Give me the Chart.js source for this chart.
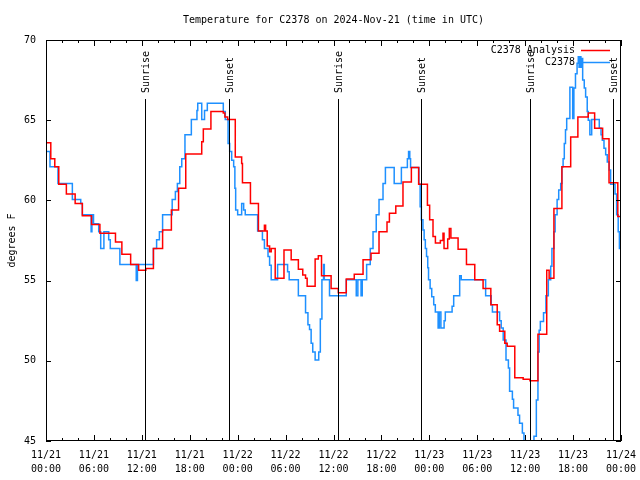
<!DOCTYPE html>
<html><head><meta charset="utf-8">
<script src="https://cdn.jsdelivr.net/npm/chart.js@4.4.1/dist/chart.umd.min.js"></script>
<style>html,body{margin:0;padding:0;background:#fff}</style>
</head><body>
<canvas id="c" width="640" height="480"></canvas>
<script>
const titleText = 'Temperature for C2378 on 2024-Nov-21 (time in UTC)';
const yAxisLabel = 'degrees F';
const tickDates = ['11/21','11/21','11/21','11/21','11/22','11/22','11/22','11/22','11/23','11/23','11/23','11/23','11/24'];
const tickTimes = ['00:00','06:00','12:00','18:00','00:00','06:00','12:00','18:00','00:00','06:00','12:00','18:00','00:00'];
const seriesNames = ['C2378 Analysis', 'C2378'];
const seriesColors = ['#ff0000', '#1e90ff'];

// hours since 11/21 00:00 UTC
const analysisHours = [0,0.6,1.1,1.6,2.55,3.65,4.55,5.7,6.75,8.7,9.5,10.6,11.6,12.5,13.45,14.6,15.7,16.6,17.5,19.5,19.7,20.65,22.2,22.4,22.75,23.7,24.5,24.6,25.6,26.6,27.35,27.5,27.7,28.0,28.2,28.7,29.8,30.7,31.6,32.15,32.5,32.7,33.7,34.1,34.5,35.7,36.6,37.6,38.6,39.7,40.7,41.7,42.7,43.0,43.8,44.7,45.75,46.66,47.76,48.04,48.46,48.76,49.38,49.71,49.84,50.3,50.5,50.7,51.6,52.65,53.69,54.73,55.7,56.5,56.8,57.45,57.75,58.7,59.75,60.6,61.6,62.7,63.0,63.6,64.6,65.7,66.6,67.9,68.7,69.7,70.5,71.6,72];
const analysisTemps = [63.6,62.6,62.1,61.0,60.4,59.8,59.05,58.5,57.95,57.4,56.65,56.0,55.65,55.75,57.0,58.15,59.4,60.75,62.9,63.65,64.45,65.55,65.45,65.2,65.05,62.7,62.3,61.1,59.8,58.1,58.45,58.1,57.15,56.8,57.0,55.15,56.9,56.3,55.7,55.35,55.15,54.65,56.35,56.55,55.3,54.5,54.25,55.1,55.4,56.3,56.7,58.05,58.65,59.2,59.65,61.15,62.05,61.0,59.7,58.8,57.75,57.35,57.5,57.95,57.0,57.6,58.25,57.65,56.95,56.0,55.05,54.5,53.5,52.25,51.85,51.1,50.9,48.95,48.85,48.75,51.65,55.65,55.15,59.5,62.1,63.95,65.2,65.45,64.5,63.85,61.1,59.0,59.0];

const obsHours = [0,0.5,1.5,3.3,4.35,4.55,5.65,5.75,5.95,6.6,6.85,7.25,7.85,8.05,9.25,11.3,11.45,13.45,13.85,14.2,14.6,15.8,16.2,16.45,16.75,17.0,17.4,18.2,18.9,19.0,19.5,19.85,20.2,22.2,22.45,22.8,23.0,23.25,23.5,23.65,23.75,24.0,24.5,24.75,24.95,26.5,27.1,27.35,27.8,28.0,28.2,29.0,30.25,30.45,31.6,32.5,32.8,33.0,33.2,33.4,33.7,34.15,34.35,34.55,34.75,34.85,35.5,37.6,38.85,39.05,39.45,39.6,40.15,40.6,40.95,41.35,41.7,42.2,42.5,43.6,44.5,45.25,45.4,45.55,45.65,46.7,46.85,47.0,47.2,47.35,47.5,47.65,47.8,47.9,48.1,48.3,48.55,48.75,49.1,49.25,49.45,49.85,50.0,50.85,51.05,51.8,52.0,55.05,55.75,55.9,56.8,57.0,57.25,57.6,57.9,58.05,58.4,58.55,59.1,59.3,59.65,59.85,60.2,60.8,61.1,61.4,61.6,61.75,61.9,62.3,62.6,62.9,63.2,63.35,63.6,63.75,64.0,64.2,64.45,64.6,64.75,64.9,65.05,65.2,65.6,65.95,66.1,66.3,66.5,66.65,66.75,66.86,66.98,67.07,67.2,67.4,67.57,67.77,67.9,68.1,68.33,69.28,69.5,69.66,69.87,70.08,70.28,70.53,70.7,71.25,71.45,71.65,71.8,72];
const obsTemps = [63.05,62.1,61.05,60.05,59.8,59.1,58.05,59.1,58.55,58.05,57.0,58.05,57.55,57.0,56.0,55.0,56.0,57.0,57.55,58.05,59.1,60.05,60.55,61.05,62.1,62.6,64.1,65.05,65.6,66.05,65.05,65.6,66.05,65.55,65.05,63.55,63.05,62.5,62.1,60.75,59.4,59.1,59.8,59.4,59.1,58.1,57.55,57.0,56.5,55.95,55.05,56.0,55.55,55.05,54.05,53.0,52.25,51.95,51.1,50.55,50.05,50.55,52.6,55.05,56.0,55.05,54.05,55.05,54.05,55.05,54.05,55.05,56.0,57.0,58.05,59.1,60.05,61.05,62.05,61.05,62.05,62.6,63.05,62.6,62.05,61.0,59.6,58.8,58.15,57.55,57.0,56.5,55.8,55.05,54.5,54.0,53.5,53.05,52.05,53.05,52.05,52.5,53.05,53.4,54.05,55.3,55.05,54.05,53.5,53.05,52.5,52.05,51.3,50.05,49.55,48.1,47.6,47.05,46.6,46.1,45.5,44.5,43.8,44.3,45.3,47.55,50.55,51.9,52.45,53.0,54.05,55.05,55.9,57.0,58.05,59.1,60.05,60.65,61.05,62.1,62.6,63.55,64.4,65.1,67.05,65.1,67.0,67.9,68.55,68.95,68.3,68.95,68.3,68.85,67.5,67.0,66.45,65.55,65.0,64.1,65.05,64.5,64.1,63.75,63.25,62.85,62.4,61.9,61.0,60.4,59.1,58.05,57.0,57.0];

const sunHours = [12.42, 22.87, 36.54, 46.91, 60.59, 71.04];
const sunLabels = ['Sunrise', 'Sunset', 'Sunrise', 'Sunset', 'Sunrise', 'Sunset'];

const FAMILY = '"DejaVu Sans Mono", "Liberation Mono", monospace';
const FONT = '10px ' + FAMILY;

const toPoints = (hs, vs) => hs.map((h, i) => ({x: h, y: vs[i]}));

const decor = {
  id: 'decor',
  afterDatasetsDraw(chart) {
    const {ctx, chartArea: a, scales: {x, y}} = chart;
    ctx.save();
    ctx.strokeStyle = '#000';
    ctx.fillStyle = '#000';
    ctx.lineWidth = 1;
    // sunrise / sunset markers
    sunHours.forEach((h, i) => {
      const px = Math.round(x.getPixelForValue(h)) + 0.5;
      ctx.beginPath(); ctx.moveTo(px, a.top + 59); ctx.lineTo(px, a.bottom); ctx.stroke();
      ctx.save();
      ctx.translate(px + 1, a.top + 53);
      ctx.rotate(-Math.PI / 2);
      ctx.font = FONT; ctx.textAlign = 'left'; ctx.textBaseline = 'middle';
      ctx.fillText(sunLabels[i], 0, 0);
      ctx.restore();
    });
    // frame
    ctx.strokeRect(a.left + 0.5, a.top + 0.5, a.right - a.left - 1, a.bottom - a.top - 1);
    // y ticks (inward, both sides)
    y.ticks.forEach(t => {
      const py = Math.round(y.getPixelForValue(t.value)) + 0.5;
      ctx.beginPath();
      ctx.moveTo(a.left, py); ctx.lineTo(a.left + 5, py);
      ctx.moveTo(a.right, py); ctx.lineTo(a.right - 5, py);
      ctx.stroke();
    });
    // x ticks: major every 6h, minor every 2h
    for (let h = 0; h <= 72; h += 2) {
      const px = Math.round(x.getPixelForValue(h)) + 0.5;
      const len = (h % 6 === 0) ? 6 : 3;
      ctx.beginPath();
      ctx.moveTo(px, a.bottom); ctx.lineTo(px, a.bottom - len);
      ctx.moveTo(px, a.top); ctx.lineTo(px, a.top + len);
      ctx.stroke();
    }
    ctx.restore();
  },
  afterDraw(chart) {
    const {ctx, chartArea: a} = chart;
    ctx.save();
    ctx.font = FONT;
    ctx.fillStyle = '#000';
    ctx.textBaseline = 'middle';
    // title
    ctx.textAlign = 'center';
    ctx.fillText(titleText, (a.left + a.right) / 2, 20);
    // legend
    ctx.textAlign = 'right';
    chart.data.datasets.forEach((ds, i) => {
      const ly = 50 + i * 12;
      ctx.fillStyle = '#000';
      ctx.fillText(ds.label, 575, ly);
      ctx.strokeStyle = ds.borderColor;
      ctx.lineWidth = 1.5;
      ctx.beginPath(); ctx.moveTo(581, ly + 0.5); ctx.lineTo(610, ly + 0.5); ctx.stroke();
    });
    ctx.restore();
  }
};

new Chart(document.getElementById('c'), {
  type: 'line',
  data: {
    datasets: [
      {label: seriesNames[0], data: toPoints(analysisHours, analysisTemps), borderColor: seriesColors[0], borderWidth: 1.5, stepped: 'before', pointRadius: 0, fill: false, clip: 0},
      {label: seriesNames[1], data: toPoints(obsHours, obsTemps), borderColor: seriesColors[1], borderWidth: 1.5, stepped: 'before', pointRadius: 0, fill: false, clip: 0}
    ]
  },
  options: {
    responsive: false,
    animation: false,
    devicePixelRatio: 1,
    layout: {padding: {left: 0, right: 19, top: 40, bottom: 0}},
    plugins: {legend: {display: false}, title: {display: false}, tooltip: {enabled: false}},
    scales: {
      x: {
        type: 'linear', min: 0, max: 72,
        grid: {display: false, drawTicks: false}, border: {display: false},
        ticks: {
          stepSize: 6, autoSkip: false, maxRotation: 0, minRotation: 0, padding: 8, color: '#000',
          font: {family: FAMILY, size: 10, lineHeight: 1.35},
          callback: (v) => { const i = Math.round(v / 6); return [tickDates[i], tickTimes[i]]; }
        },
        afterFit: (s) => { s.height = 39; s.paddingLeft = 0; s.paddingRight = 0; }
      },
      y: {
        min: 45, max: 70,
        grid: {display: false, drawTicks: false}, border: {display: false},
        ticks: {stepSize: 5, padding: 10, color: '#000', font: {family: FAMILY, size: 10}},
        title: {display: true, text: yAxisLabel, color: '#000', font: {family: FAMILY, size: 10}, padding: {top: 6, bottom: 0}},
        afterFit: (s) => { s.width = 46; s.paddingTop = 0; s.paddingBottom = 0; }
      }
    }
  },
  plugins: [decor]
});
</script>
</body></html>
